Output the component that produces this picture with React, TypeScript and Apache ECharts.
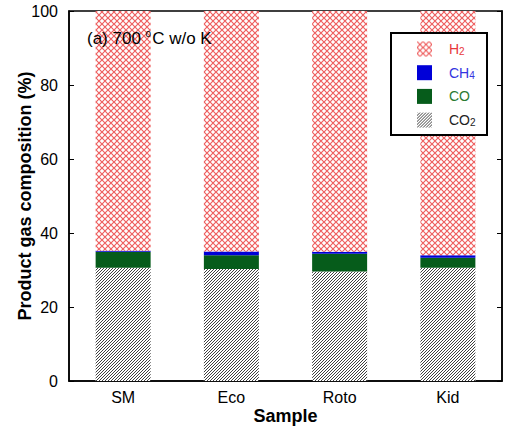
import { useEffect, useRef } from "react";
import * as echarts from "echarts";

// Product gas composition (%) per sample, stacked bottom to top
const samples = ["SM", "Eco", "Roto", "Kid"];
const co2Values = [30.6, 30.3, 29.6, 30.6];
const coValues = [4.3, 3.7, 4.8, 2.7];
const ch4Values = [0.3, 1.0, 0.5, 0.7];
const h2Values = [64.8, 65.0, 65.1, 66.0];

// Legend entries, top to bottom
const legendNames = ["H2", "CH4", "CO", "CO2"];
const legendRich = ["{t|H}{s|2}", "{t|CH}{s|4}", "{t|CO}", "{t|CO}{s|2}"];
const legendColors = ["#e8383d", "#3434e0", "#2b7a33", "#222222"];

const FONT = "'Liberation Sans', Arial, Helvetica, sans-serif";

type Draw = (ctx: CanvasRenderingContext2D, n: number) => void;

function tile(n: number, draw: Draw) {
  const c = document.createElement("canvas");
  c.width = n;
  c.height = n;
  const ctx = c.getContext("2d")!;
  ctx.fillStyle = "#ffffff";
  ctx.fillRect(0, 0, n, n);
  draw(ctx, n);
  return { image: c, repeat: "repeat", imageWidth: n, imageHeight: n };
}

// red cross-hatch for H2
const crossPattern = () =>
  tile(6, (ctx, n) => {
    ctx.strokeStyle = "#ee5f5f";
    ctx.lineWidth = 1.2;
    ctx.beginPath();
    ctx.moveTo(0, 0);
    ctx.lineTo(n, n);
    ctx.moveTo(n, 0);
    ctx.lineTo(0, n);
    ctx.stroke();
  });

// dense diagonal hatch for CO2
const diagPattern = () =>
  tile(3, (ctx, n) => {
    ctx.strokeStyle = "#2a2a2a";
    ctx.lineWidth = 0.9;
    ctx.beginPath();
    ctx.moveTo(0, n);
    ctx.lineTo(n, 0);
    ctx.moveTo(-1, 1);
    ctx.lineTo(1, -1);
    ctx.moveTo(n - 1, n + 1);
    ctx.lineTo(n + 1, n - 1);
    ctx.stroke();
  });

const richStyles = {
  t: { fontSize: 14, fontFamily: FONT, lineHeight: 15 },
  s: { fontSize: 10, fontFamily: FONT, lineHeight: 9, verticalAlign: "bottom" },
};

export default function App() {
  const ref = useRef<HTMLDivElement>(null);

  useEffect(() => {
    if (!ref.current) return;
    const chart = echarts.init(ref.current, null, { renderer: "svg" });

    const barW = 55;
    const option: any = {
      animation: false,
      backgroundColor: "#ffffff",
      grid: {
        left: 69,
        right: 3,
        top: 11,
        bottom: 47,
        outerBoundsMode: "none",
        containLabel: false,
        show: true,
        borderColor: "#000",
        borderWidth: 1.5,
        backgroundColor: "transparent",
      },
      legend: {
        left: 417,
        top: 41.5,
        orient: "vertical",
        itemWidth: 15,
        itemHeight: 15,
        itemGap: 8.7,
        selectedMode: false,
        icon: "rect",
        padding: 0,
        data: legendNames.map((name, i) => ({
          name,
          textStyle: {
            color: legendColors[i],
            padding: [0, 0, 0, 12],
            rich: richStyles,
          },
        })),
        formatter: (name: string) => legendRich[legendNames.indexOf(name)],
        textStyle: { fontFamily: FONT, fontSize: 14, rich: richStyles },
        z: 10,
      },
      xAxis: {
        type: "category",
        data: samples,
        name: "Sample",
        nameLocation: "middle",
        nameGap: 26,
        nameMoveOverlap: false,
        nameTextStyle: { fontFamily: FONT, fontSize: 18, fontWeight: "bold", color: "#000" },
        axisLine: { lineStyle: { color: "#000", width: 1.5 } },
        axisTick: { inside: true, length: 5, lineStyle: { color: "#000" } },
        axisLabel: { fontFamily: FONT, fontSize: 16, color: "#000", margin: 8 },
      },
      yAxis: [
        {
          type: "value",
          min: 0,
          max: 100,
          interval: 20,
          name: "Product gas composition (%)",
          nameLocation: "middle",
          nameGap: 35,
          nameMoveOverlap: false,
          nameTextStyle: { fontFamily: FONT, fontSize: 18, fontWeight: "bold", color: "#000" },
          axisLine: { show: true, lineStyle: { color: "#000", width: 1.5 } },
          axisTick: { show: true, inside: true, length: 5, lineStyle: { color: "#000" } },
          axisLabel: { fontFamily: FONT, fontSize: 16, color: "#000", margin: 11 },
          splitLine: { show: false },
        },
        {
          type: "value",
          position: "right",
          min: 0,
          max: 100,
          interval: 20,
          axisLine: { show: true, lineStyle: { color: "#000", width: 1.5 } },
          axisTick: { show: true, inside: true, length: 5, lineStyle: { color: "#000" } },
          axisLabel: { show: false },
          splitLine: { show: false },
        },
      ],
      series: [
        {
          name: "CO2",
          type: "bar",
          stack: "gas",
          barWidth: barW,
          data: co2Values,
          itemStyle: { color: diagPattern() },
        },
        {
          name: "CO",
          type: "bar",
          stack: "gas",
          barWidth: barW,
          data: coValues,
          itemStyle: { color: "#065c1b" },
        },
        {
          name: "CH4",
          type: "bar",
          stack: "gas",
          barWidth: barW,
          data: ch4Values,
          itemStyle: { color: "#0000d8" },
        },
        {
          name: "H2",
          type: "bar",
          stack: "gas",
          barWidth: barW,
          data: h2Values,
          itemStyle: { color: crossPattern() },
        },
      ],
      graphic: [
        {
          type: "rect",
          shape: { x: 391, y: 33, width: 96, height: 102 },
          style: { fill: "#ffffff", stroke: "#000", lineWidth: 2 },
          z: 5,
        },
        {
          type: "text",
          x: 87,
          y: 38,
          style: {
            text: "(a) 700 {sup|o}C w/o K",
            fontFamily: FONT,
            fontSize: 17,
            fill: "#000",
            verticalAlign: "middle",
            rich: {
              sup: { fontSize: 10, fontFamily: FONT, padding: [0, 1, 9, 0] },
            },
          },
          z: 5,
        },
      ],
    };

    chart.setOption(option);
    return () => chart.dispose();
  }, []);

  return (
    <div
      ref={ref}
      style={{ position: "fixed", left: 0, top: 0, width: 505, height: 428 }}
    />
  );
}
